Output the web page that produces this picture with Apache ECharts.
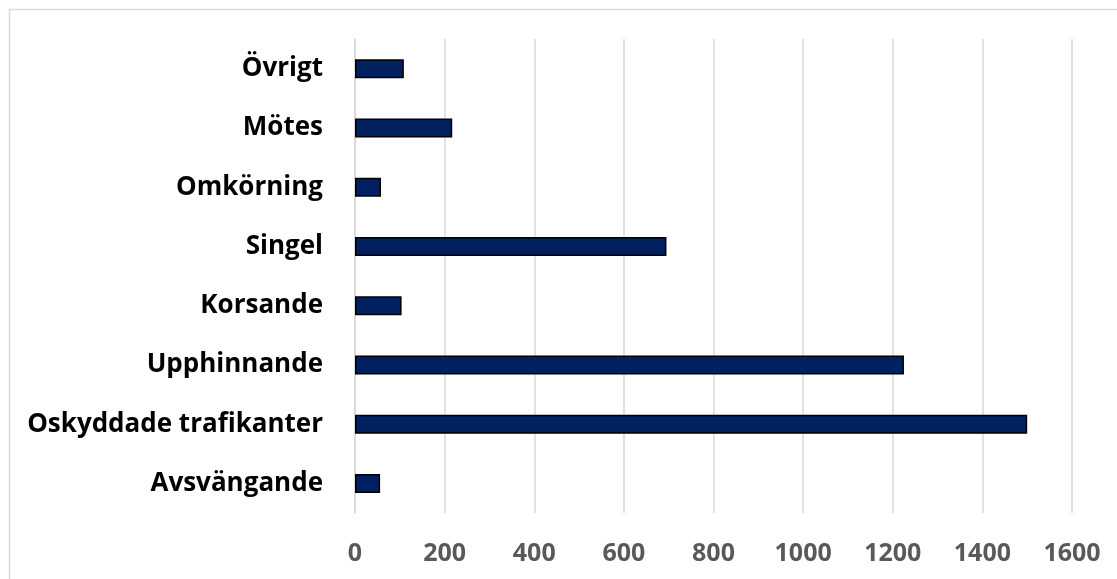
<!DOCTYPE html>
<html>
<head>
<meta charset="utf-8">
<script src="https://cdn.jsdelivr.net/npm/echarts@6/dist/echarts.min.js"></script>
<style>
html,body{margin:0;padding:0;background:#fff;}
#c{width:1117px;height:579px;}
</style>
</head>
<body>
<div id="c"></div>
<script>
const categories = ['Avsvängande','Oskyddade trafikanter','Upphinnande','Korsande','Singel','Omkörning','Mötes','Övrigt'];
const values = [56, 1500, 1225, 104, 695, 58, 217, 109];
const xTicks = { min: 0, max: 1600, interval: 200 };

const chart = echarts.init(document.getElementById('c'), null, {renderer:'canvas'});
chart.setOption({
  animation: false,
  backgroundColor: '#ffffff',
  graphic: [{
    type: 'rect',
    shape: { x: 9.5, y: 9.5, width: 1300, height: 800 },
    style: { fill: 'none', stroke: '#d9d9d9', lineWidth: 1.5 },
    silent: true, z: -10
  }],
  grid: { left: 355, right: 45, top: 39, bottom: 66, containLabel: false },
  xAxis: {
    type: 'value',
    min: xTicks.min, max: xTicks.max, interval: xTicks.interval,
    axisLine: { show: false },
    axisTick: { show: false },
    splitLine: { show: true, lineStyle: { color: '#d9d9d9', width: 1.5 } },
    axisLabel: { color: '#595959', fontFamily: 'Open Sans', fontWeight: 'bold', fontSize: 25, margin: 28,
      formatter: function (v) { return String(v); } }
  },
  yAxis: {
    type: 'category',
    data: categories,
    axisLine: { show: true, lineStyle: { color: '#d9d9d9', width: 1.5 } },
    axisTick: { show: false },
    axisLabel: { color: '#000000', fontFamily: 'Open Sans', fontWeight: 'bold', fontSize: 26, margin: 32 }
  },
  series: [{
    type: 'bar',
    data: values,
    barWidth: 19,
    itemStyle: { color: '#002060', borderColor: '#000000', borderWidth: 1.5 }
  }]
});
</script>
</body>
</html>
